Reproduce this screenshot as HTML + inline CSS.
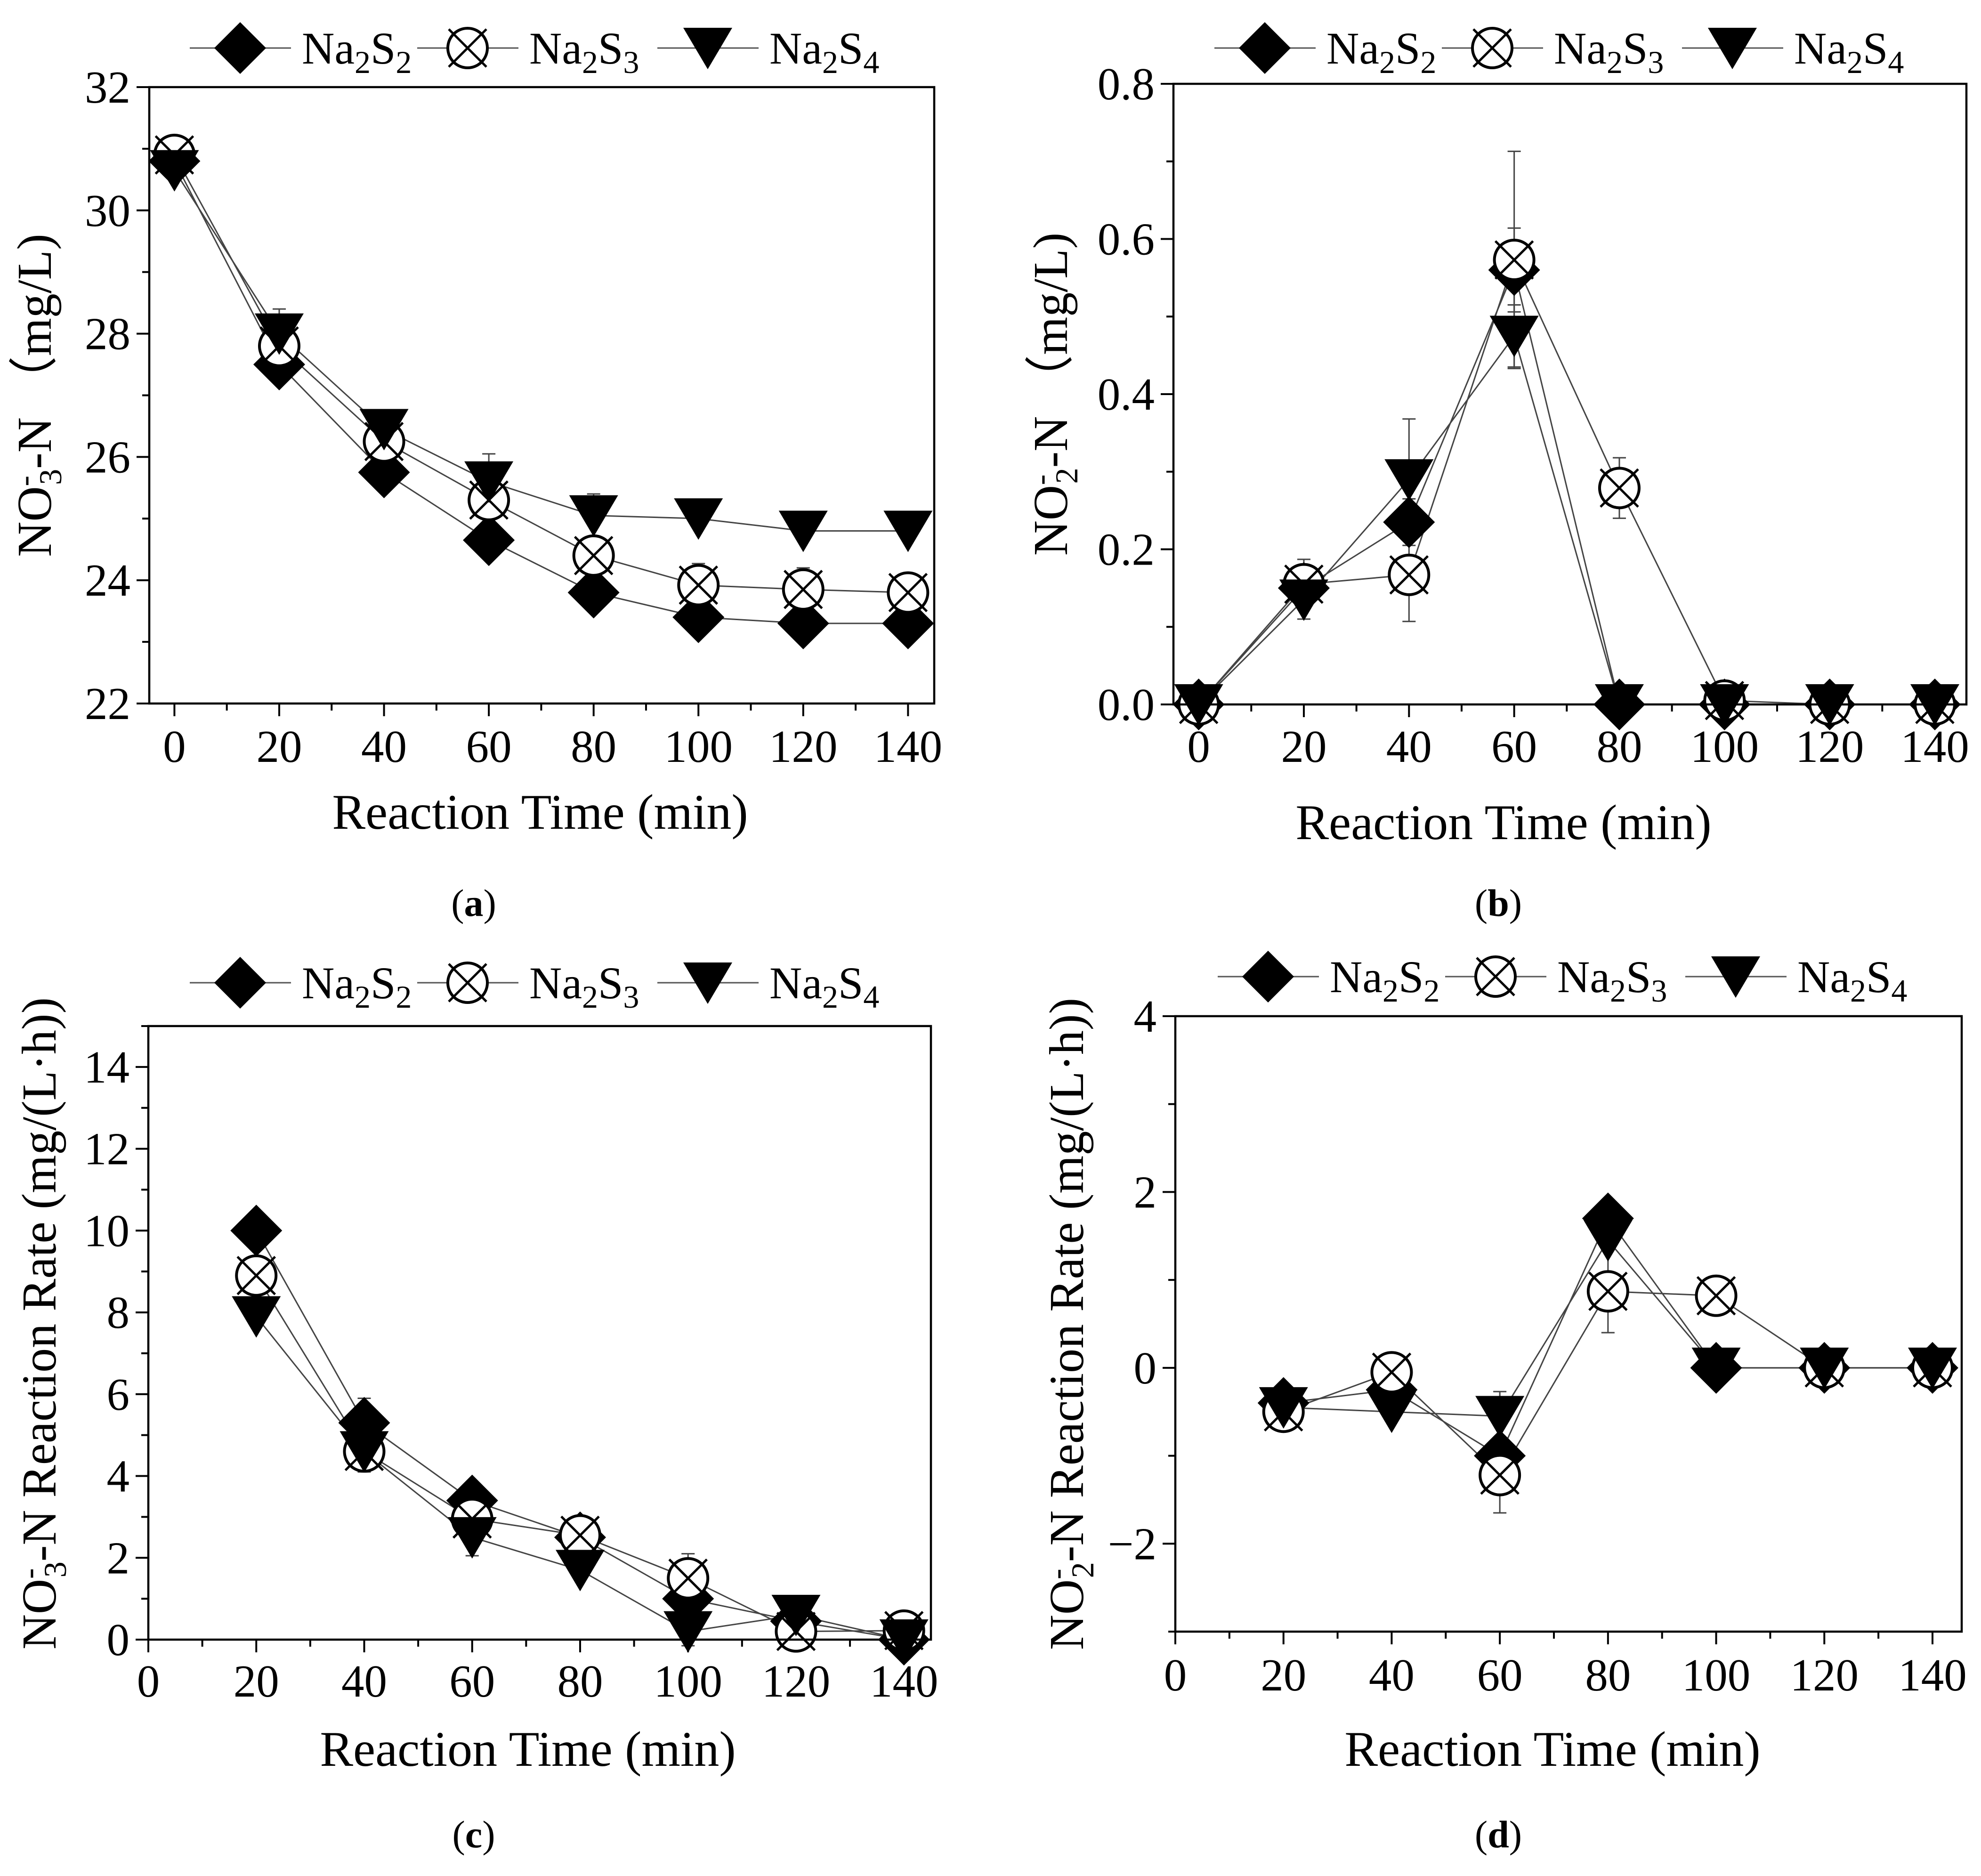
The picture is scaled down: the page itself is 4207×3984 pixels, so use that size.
<!DOCTYPE html>
<html><head><meta charset="utf-8"><style>
html,body{margin:0;padding:0;background:#fff}
svg{display:block}
text{font-family:"Liberation Serif",serif;fill:#000}
</style></head><body>
<svg id="fig" xmlns="http://www.w3.org/2000/svg" width="4207" height="3984" viewBox="0 0 4207 3984"></svg>
<script>
// ---------- data ----------
const seriesNames = ["Na2S2","Na2S3","Na2S4"];
// panel a : NO3-N concentration
const aX = [0,20,40,60,80,100,120,140];
const aS2 = [30.8,27.5,25.75,24.65,23.8,23.4,23.3,23.3];
const aS3 = [30.9,27.8,26.25,25.3,24.4,23.92,23.85,23.8];
const aS4 = [30.65,28.0,26.45,25.6,25.05,25.0,24.8,24.8];
const aErr2 = [0,0,0,0,0,0,0,0];
const aErr3 = [0.1,0.2,0.2,0.2,0.2,0.35,0.35,0];
const aErr4 = [0.1,0.4,0.3,0.45,0.35,0,0,0];
const aYTicks = [22,24,26,28,30,32];
// panel b : NO2-N concentration
const bX = [0,20,40,60,80,100,120,140];
const bS2 = [0,0.15,0.235,0.56,0,0,0,0];
const bS3 = [0,0.155,0.167,0.573,0.279,0.005,0,0];
const bS4 = [0,0.135,0.29,0.475,0,0,0,0];
const bErr2 = [0,0.02,0.03,0.054,0,0,0,0];
const bErr3 = [0,0.032,0.06,0.14,0.039,0,0,0];
const bErr4 = [0,0.025,0.078,0.04,0,0,0,0];
const bYTicks = [0.0,0.2,0.4,0.6,0.8];
// panel c : NO3-N reaction rate
const cX = [20,40,60,80,100,120,140];
const cS2 = [10.0,5.3,3.4,2.5,1.0,0.45,0.0];
const cS3 = [8.9,4.6,2.95,2.55,1.5,0.2,0.22];
const cS4 = [7.9,4.6,2.5,1.7,0.2,0.6,0.0];
const cErr2 = [0,0.6,0.3,0.2,0.2,0.1,0];
const cErr3 = [0,0.5,0.3,0.2,0.6,0.2,0.2];
const cErr4 = [0,0.5,0.45,0.2,0.35,0.1,0];
const cYTicks = [0,2,4,6,8,10,12,14];
// panel d : NO2-N reaction rate
const dX = [20,40,60,80,100,120,140];
const dS2 = [-0.4,-0.25,-1.0,1.7,0,0,0];
const dS3 = [-0.5,-0.05,-1.22,0.87,0.82,0,0];
const dS4 = [-0.45,-0.5,-0.55,1.45,0,0,0];
const dErr2 = [0,0.1,0.15,0.1,0,0,0];
const dErr3 = [0.05,0.15,0.43,0.47,0.1,0,0];
const dErr4 = [0.05,0.1,0.28,0.1,0,0,0];
const dYTicks = [-2,0,2,4];
const xTicks = [0,20,40,60,80,100,120,140];

const NS = "http://www.w3.org/2000/svg";
const svg = document.getElementById("fig");
function mk(tag, attrs, parent){
  const e = document.createElementNS(NS, tag);
  for (const k in attrs) e.setAttribute(k, attrs[k]);
  (parent||svg).appendChild(e);
  return e;
}

function drawMarker(g, kind, cx, cy){
  let m;
  if (kind===0){
    m = mk("polygon",{points:`${cx},${cy-55} ${cx+55},${cy} ${cx},${cy+55} ${cx-55},${cy}`,fill:"#000"},g);
  } else if (kind===1){
    m = mk("g",{},g);
    mk("circle",{cx:cx,cy:cy,r:42,fill:"#fff",stroke:"#000","stroke-width":6},m);
    mk("line",{x1:cx-40,y1:cy-40,x2:cx+40,y2:cy+40,stroke:"#000","stroke-width":5},m);
    mk("line",{x1:cx+40,y1:cy-40,x2:cx-40,y2:cy+40,stroke:"#000","stroke-width":5},m);
  } else {
    m = mk("polygon",{points:`${cx-52},${cy-43} ${cx+52},${cy-43} ${cx},${cy+45}`,fill:"#000"},g);
  }
  return m;
}

function legend(x0, yc, name){
  const g = mk("g",{});
  
  
  const offs = [0,483,993];
  const subs = ["2","3","4"];
  for (let i=0;i<3;i++){
    const x = x0+offs[i];
    mk("line",{x1:x,y1:yc,x2:x+215,y2:yc,stroke:"#555","stroke-width":3},g);
    drawMarker(g,i,x+107,yc);
    const t = mk("text",{x:x+238,y:yc+33,"font-size":96},g);
    
    
    t.innerHTML = `Na<tspan font-size="68" dy="20">2</tspan><tspan dy="-20">S</tspan><tspan font-size="68" dy="20">${subs[i]}</tspan>`;
  }
}

function panel(cfg){
  const g = mk("g",{});
  
  
  const {L,R,T,B,x0,x1,y0,y1} = cfg;
  const sx = v => L + (v-x0)/(x1-x0)*(R-L);
  const sy = v => B - (v-y0)/(y1-y0)*(B-T);
  const tk = mk("g",{},g);
  
  
  for (let v=0; v<=140; v+=10){
    if (v < x0) continue;
    const major = v%20===0;
    mk("line",{x1:sx(v),y1:B,x2:sx(v),y2:B+(major?27:15),stroke:"#000","stroke-width":4},tk);
  }
  cfg.yTicks.forEach(v=>{
    mk("line",{x1:L-27,y1:sy(v),x2:L,y2:sy(v),stroke:"#000","stroke-width":4},tk);
    const t = mk("text",{x:L-40,y:sy(v)+33,"font-size":97,"text-anchor":"end"},tk);
    t.textContent = cfg.yFmt(v);
  });
  for (let i=0;i<cfg.yTicks.length-1;i++){
    const m = (cfg.yTicks[i]+cfg.yTicks[i+1])/2;
    mk("line",{x1:L-15,y1:sy(m),x2:L,y2:sy(m),stroke:"#000","stroke-width":4},tk);
  }
  if (cfg.extraMinor) cfg.extraMinor.forEach(m=>mk("line",{x1:L-15,y1:sy(m),x2:L,y2:sy(m),stroke:"#000","stroke-width":4},tk));
  xTicks.forEach(v=>{
    const t = mk("text",{x:sx(v),y:cfg.xLabY,"font-size":97,"text-anchor":"middle"},tk);
    t.textContent = v;
  });
  const ys = cfg.ys, errs = cfg.errs, xs = cfg.xs;
  for (let s=0;s<3;s++){
    const pts = xs.map((x,i)=>`${sx(x)},${sy(ys[s][i])}`).join(" ");
    const pl = mk("polyline",{points:pts,fill:"none",stroke:"#444","stroke-width":3},g);
    
    
  }
  for (let s=0;s<3;s++){
    xs.forEach((x,i)=>{
      const e = errs[s][i]; if (!e) return;
      const X = sx(x), y1e = sy(ys[s][i]+e), y2e = sy(ys[s][i]-e);
      const eg = mk("g",{stroke:"#444","stroke-width":3},g);
      
      
      mk("line",{x1:X,y1:y1e,x2:X,y2:y2e},eg);
      mk("line",{x1:X-14,y1:y1e,x2:X+14,y2:y1e},eg);
      mk("line",{x1:X-14,y1:y2e,x2:X+14,y2:y2e},eg);
    });
  }
  for (let s=0;s<3;s++){
    xs.forEach((x,i)=>{
      const m = drawMarker(g,s,sx(x),sy(ys[s][i]));
      
      
    });
  }
  const fr = mk("rect",{x:L,y:T,width:R-L,height:B-T,fill:"none",stroke:"#000","stroke-width":4.5},g);
  
  
  const xt = mk("text",{x:cfg.xTitleX,y:cfg.xTitleY,"font-size":106,"text-anchor":"middle"},g);
  
  
  xt.textContent = "Reaction Time (min)";
  const yc = (T+B)/2;
  const yt = mk("text",{x:0,y:0,"font-size":cfg.yTitleSize||104,"text-anchor":"middle",transform:`translate(${cfg.yTitleX},${yc+(cfg.yTitleShift||0)}) rotate(-90)`},g);
  
  
  yt.innerHTML = `NO<tspan font-size="68" dy="-34">-</tspan><tspan font-size="68" dx="-20" dy="56">${cfg.sub}</tspan><tspan dy="-22">-N${cfg.yRest}</tspan>`;
  const cap = mk("text",{x:cfg.capX,y:cfg.capY,"font-size":82,"text-anchor":"middle"},g);
  
  
  cap.innerHTML = `(<tspan font-weight="bold">${cfg.cap}</tspan>)`;
}

panel({name:"panel-a",L:317,R:1984,T:185,B:1494,x0:-4.8,x1:145,y0:22,y1:32,yTicks:aYTicks,yFmt:v=>v,
  xs:aX,ys:[aS2,aS3,aS4],errs:[aErr2,aErr3,aErr4],xLabY:1618,xTitleX:1147,xTitleY:1760,
  yTitleX:108,sub:"3",yRest:"  （mg/L)",cap:"a",capX:1006,capY:1945});
panel({name:"panel-b",L:2492,R:4176,T:178,B:1496,x0:-4.8,x1:146,y0:0,y1:0.8,yTicks:bYTicks,yFmt:v=>v.toFixed(1),
  xs:bX,ys:[bS2,bS3,bS4],errs:[bErr2,bErr3,bErr4],xLabY:1618,xTitleX:3193,xTitleY:1782,
  yTitleX:2266,sub:"2",yRest:"  （mg/L)",cap:"b",capX:3182,capY:1945});
panel({name:"panel-c",L:315,R:1977,T:2179,B:3482,x0:0,x1:145,y0:0,y1:15,yTicks:cYTicks,yFmt:v=>v,extraMinor:[15],
  xs:cX,ys:[cS2,cS3,cS4],errs:[cErr2,cErr3,cErr4],xLabY:3603,xTitleX:1121,xTitleY:3750,
  yTitleX:118,yTitleShift:-20,sub:"3",yRest:" Reaction Rate (mg/(L·h))",cap:"c",capX:1006,capY:3923});
panel({name:"panel-d",L:2496,R:4166,T:2158,B:3465,x0:0,x1:145.4,y0:-3,y1:4,yTicks:dYTicks,yFmt:v=>v<0?"\u2212"+(-v):v,extraMinor:[-3],
  xs:dX,ys:[dS2,dS3,dS4],errs:[dErr2,dErr3,dErr4],xLabY:3590,xTitleX:3297,xTitleY:3750,
  yTitleX:2300,sub:"2",yRest:" Reaction Rate (mg/(L·h))",cap:"d",capX:3182,capY:3923});

legend(403,102,"legend-a");
legend(2579,102,"legend-b");
legend(403,2087,"legend-c");
legend(2586,2074,"legend-d");
</script>
</body></html>
